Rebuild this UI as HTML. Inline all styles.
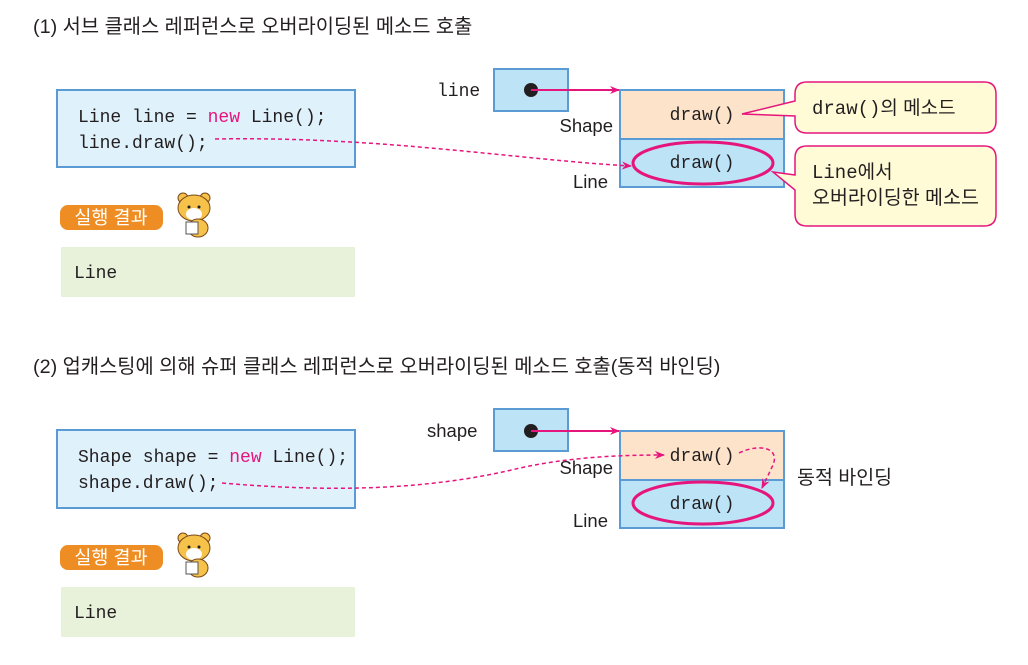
<!DOCTYPE html>
<html><head><meta charset="utf-8"><style>
html,body{margin:0;padding:0;background:#fff;}
svg{display:block;}
.k{font-family:"Liberation Sans","Noto Sans CJK KR",sans-serif;fill:#231f20;}
.m{font-family:"Liberation Mono","DejaVu Sans Mono",monospace;fill:#231f20;}
</style></head><body>
<svg width="1028" height="665" viewBox="0 0 1028 665" xmlns="http://www.w3.org/2000/svg">
<defs>
<marker id="a" markerWidth="10" markerHeight="8" refX="9" refY="4" orient="auto" markerUnits="userSpaceOnUse"><path d="M0,0 L10,4 L0,8 L3,4 Z" fill="#e6157e"/></marker>
<g id="tiger">
<circle cx="-11" cy="-14" r="5" fill="#f6c24a" stroke="#7a4a1a" stroke-width="1"/>
<circle cx="11" cy="-14" r="5" fill="#f6c24a" stroke="#7a4a1a" stroke-width="1"/>
<ellipse cx="0" cy="-4" rx="16" ry="13" fill="#f6c24a" stroke="#7a4a1a" stroke-width="1"/>
<ellipse cx="0" cy="2" rx="8" ry="6" fill="#fff"/>
<circle cx="-5" cy="-5" r="1.5" fill="#222"/><circle cx="5" cy="-5" r="1.5" fill="#222"/>
<ellipse cx="4" cy="16" rx="10" ry="9" fill="#f6c24a" stroke="#7a4a1a" stroke-width="1"/>
<rect x="-8" y="10" width="12" height="12" fill="#fff" stroke="#555" stroke-width="1"/>
</g>
</defs>

<!-- Section 1 -->
<text x="33" y="33" class="k" font-size="19.8">(1) 서브 클래스 레퍼런스로 오버라이딩된 메소드 호출</text>
<rect x="57" y="90" width="298" height="77" fill="#dff1fb" stroke="#5b9bd5" stroke-width="2"/>
<text x="78" y="122" class="m" font-size="18" xml:space="preserve">Line line = <tspan fill="#e6157e">new</tspan> Line();</text>
<text x="78" y="148" class="m" font-size="18">line.draw();</text>
<rect x="60" y="205" width="103" height="25" rx="8" fill="#ee8d23"/>
<text x="111" y="224" class="k" font-size="18.5" style="fill:#fff" text-anchor="middle">실행 결과</text>
<use href="#tiger" x="194" y="212"/>
<rect x="61" y="247" width="294" height="50" fill="#e8f1da"/>
<text x="74" y="278" class="m" font-size="18">Line</text>

<text x="437" y="96" class="m" font-size="18">line</text>
<rect x="494" y="69" width="74" height="42" fill="#bde3f7" stroke="#5b9bd5" stroke-width="2"/>
<circle cx="531" cy="90" r="7" fill="#231f20"/>
<line x1="531" y1="90" x2="619" y2="90" stroke="#e6157e" stroke-width="2" marker-end="url(#a)"/>
<rect x="620" y="90" width="164" height="49" fill="#fce3ca" stroke="#5b9bd5" stroke-width="2"/>
<rect x="620" y="139" width="164" height="48" fill="#bde3f7" stroke="#5b9bd5" stroke-width="2"/>
<text x="613" y="132" class="k" font-size="18.5" text-anchor="end">Shape</text>
<text x="608" y="188" class="k" font-size="18.5" text-anchor="end">Line</text>
<text x="702" y="120" class="m" font-size="18" text-anchor="middle">draw()</text>
<ellipse cx="703" cy="163" rx="70" ry="21" fill="none" stroke="#e6157e" stroke-width="3"/>
<text x="702" y="168" class="m" font-size="18" text-anchor="middle">draw()</text>
<path d="M215,139 C380,136 520,160 631,166" fill="none" stroke="#e6157e" stroke-width="1.5" stroke-dasharray="4,3" marker-end="url(#a)"/>

<path d="M807,82 L984,82 Q996,82 996,94 L996,121 Q996,133 984,133 L807,133 Q795,133 795,121 L795,116 L742,114 L795,101 L795,94 Q795,82 807,82 Z" fill="#fffbd7" stroke="#e6157e" stroke-width="1.5"/>
<text x="812" y="114" class="k" font-size="19"><tspan style="font-family:'Liberation Mono',monospace">draw()</tspan>의 메소드</text>
<path d="M807,146 L984,146 Q996,146 996,158 L996,214 Q996,226 984,226 L807,226 Q795,226 795,214 L795,190 L773,172 L795,175 L795,158 Q795,146 807,146 Z" fill="#fffbd7" stroke="#e6157e" stroke-width="1.5"/>
<text x="812" y="178" class="k" font-size="19"><tspan style="font-family:'Liberation Mono',monospace">Line</tspan>에서</text>
<text x="812" y="204" class="k" font-size="19.5">오버라이딩한 메소드</text>

<!-- Section 2 -->
<text x="33" y="373" class="k" font-size="19.8">(2) 업캐스팅에 의해 슈퍼 클래스 레퍼런스로 오버라이딩된 메소드 호출(동적 바인딩)</text>
<rect x="57" y="430" width="298" height="78" fill="#dff1fb" stroke="#5b9bd5" stroke-width="2"/>
<text x="78" y="462" class="m" font-size="18" xml:space="preserve">Shape shape = <tspan fill="#e6157e">new</tspan> Line();</text>
<text x="78" y="488" class="m" font-size="18">shape.draw();</text>
<rect x="60" y="545" width="103" height="25" rx="8" fill="#ee8d23"/>
<text x="111" y="564" class="k" font-size="18.5" style="fill:#fff" text-anchor="middle">실행 결과</text>
<use href="#tiger" x="194" y="552"/>
<rect x="61" y="587" width="294" height="50" fill="#e8f1da"/>
<text x="74" y="618" class="m" font-size="18">Line</text>

<text x="427" y="437" class="k" font-size="18.5">shape</text>
<rect x="494" y="409" width="74" height="42" fill="#bde3f7" stroke="#5b9bd5" stroke-width="2"/>
<circle cx="531" cy="431" r="7" fill="#231f20"/>
<line x1="531" y1="431" x2="619" y2="431" stroke="#e6157e" stroke-width="2" marker-end="url(#a)"/>
<rect x="620" y="431" width="164" height="49" fill="#fce3ca" stroke="#5b9bd5" stroke-width="2"/>
<rect x="620" y="480" width="164" height="48" fill="#bde3f7" stroke="#5b9bd5" stroke-width="2"/>
<text x="613" y="474" class="k" font-size="18.5" text-anchor="end">Shape</text>
<text x="608" y="527" class="k" font-size="18.5" text-anchor="end">Line</text>
<text x="702" y="461" class="m" font-size="18" text-anchor="middle">draw()</text>
<ellipse cx="703" cy="503" rx="70" ry="21" fill="none" stroke="#e6157e" stroke-width="3"/>
<text x="702" y="509" class="m" font-size="18" text-anchor="middle">draw()</text>
<path d="M222,483 C360,495 450,485 520,468 C570,457 620,455 664,455" fill="none" stroke="#e6157e" stroke-width="1.5" stroke-dasharray="4,3" marker-end="url(#a)"/>
<path d="M739,453 C760,443 780,448 773,465 L762,488" fill="none" stroke="#e6157e" stroke-width="1.5" stroke-dasharray="4,3" marker-end="url(#a)"/>
<text x="797" y="484" class="k" font-size="19.5">동적 바인딩</text>
</svg>
</body></html>
